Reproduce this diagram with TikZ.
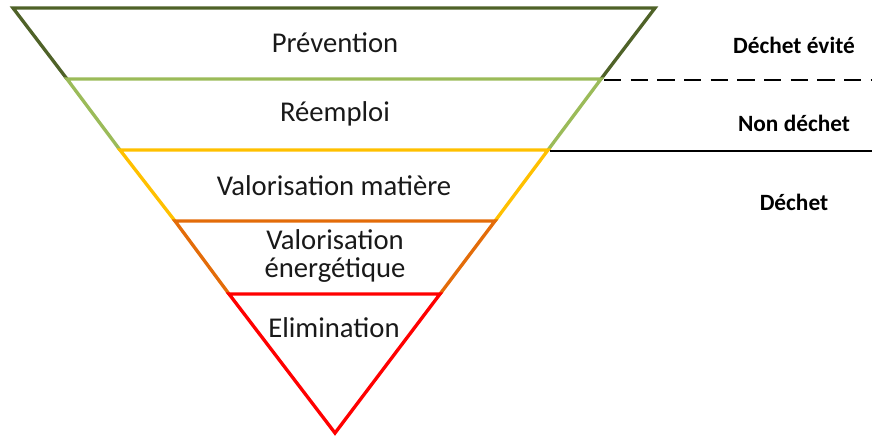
\documentclass[tikz,border=0pt]{standalone}
\usepackage{fontspec}
\setmainfont{Carlito}
\definecolor{cdkgreen}{HTML}{4F6228}
\definecolor{cltgreen}{HTML}{9BBB59}
\definecolor{cyellow}{HTML}{FFC000}
\definecolor{corange}{HTML}{E36C09}
\definecolor{cred}{HTML}{FF0000}
\begin{document}
\begin{tikzpicture}[x=0.75pt,y=-0.75pt,
  band/.style={line width=2.5pt,line join=miter},
  lbl/.style={font=\fontsize{21.5}{21.5}\selectfont,align=center,text=black!90},
  side/.style={font=\fontsize{17.5}{20}\selectfont\bfseries,text=black}]
\useasboundingbox (0,0) rectangle (872,436);
% corner coordinates
\coordinate (t0l) at (13,8);   \coordinate (t0r) at (655,8);
\coordinate (t1l) at (67,79);  \coordinate (t1r) at (601,79);
\coordinate (t2l) at (120,150);\coordinate (t2r) at (548,150);
\coordinate (t3l) at (175,221);\coordinate (t3r) at (495,221);
\coordinate (t4l) at (229,294);\coordinate (t4r) at (440,294);
\coordinate (apex) at (335,433);
\coordinate (dashend) at (872,80);
\coordinate (solidend) at (872,151);
% bands
\draw[band,cdkgreen] (t1l) -- (t0l) -- (t0r) -- (t1r);
\draw[band,cltgreen] (t2l) -- (t1l) -- (t1r) -- (t2r);
\draw[band,cyellow] (t3l) -- (t2l) -- (t2r) -- (t3r);
\draw[band,corange] (t4l) -- (t3l) -- (t3r) -- (t4r);
\draw[band,cred] (t4l) -- (t4r) -- (apex) -- cycle;
% separators
\draw[line width=1.6pt,dash pattern=on 13pt off 7pt] (t1r) ++(3,1) coordinate (d0) (d0) -- (dashend);
\draw[line width=1.6pt] (t2r) ++(2,1) coordinate (s0) (s0) -- (solidend);
% labels
\node[lbl] (prev) at (335,43) {Prévention};
\node[lbl] (reem) at (335,114) {Réemploi};
\node[lbl] (vmat) at (334,186) {Valorisation matière};
\node[lbl] (vene) at (335,256) {Valorisation\\énergétique};
\node[lbl] (elim) at (334,328) {Elimination};
\node[side] (evite) at (794,45) {Déchet évité};
\node[side] (nond) at (794,123) {Non déchet};
\node[side] (dech) at (794,202) {Déchet};
\end{tikzpicture}
\end{document}
